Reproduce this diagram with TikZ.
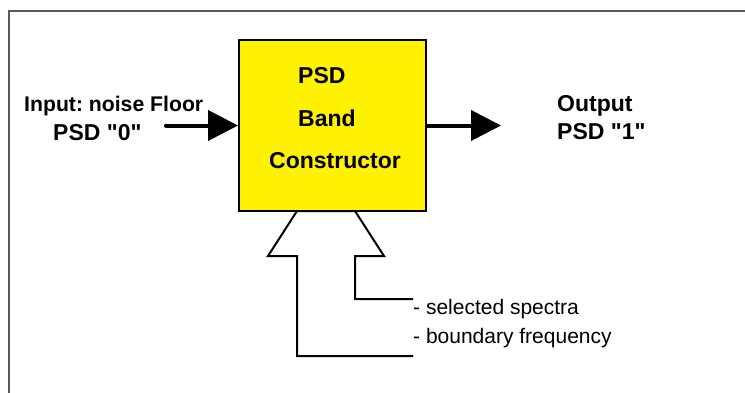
\documentclass[tikz,border=0pt]{standalone}
\usepackage{fontspec}
\setmainfont{Liberation Sans}
\usetikzlibrary{arrows.meta}
\frenchspacing
\begin{document}
\begin{tikzpicture}[x=1pt,y=-1pt,
  boldtxt/.style={anchor=base west,inner sep=0pt,font=\fontsize{23}{27}\selectfont\bfseries},
  plaintxt/.style={anchor=base west,inner sep=0pt,font=\fontsize{21}{25}\selectfont},
  blockbox/.style={draw=black,line width=2pt,fill=yellow,minimum width=187pt,minimum height=171pt,inner sep=0pt},
  flowarrow/.style={line width=4pt,-{Triangle[length=30pt,width=30pt]}},
  hollow/.style={line width=2pt,line join=miter}]
\useasboundingbox (0,0) rectangle (745,392);
% frame
\draw[line width=1.6pt,draw=black!65] (9,420) -- (9,11) -- (760,11);
% block
\node[blockbox] (box) at (332.5,125.5) {};
\node[boldtxt] (t1) at (298,83) {PSD};
\node[boldtxt] (t2) at (298,126) {Band};
\node[boldtxt] (t3) at (269,168) {Constructor};
% input
\node[boldtxt,font=\fontsize{21.2}{25}\selectfont\bfseries] (in1) at (24,111) {Input: noise Floor};
\node[boldtxt] (in2) at (53,140) {PSD \textquotedbl 0\textquotedbl};
\coordinate (instart) at (166,125.5);
\draw[flowarrow,line cap=round] (instart) -- (box.west);
% output
\coordinate (outend) at (501,125.5);
\draw[flowarrow] (box.east) -- (outend);
\node[boldtxt] (out1) at (557,111) {Output};
\node[boldtxt] (out2) at (557,139.5) {PSD \textquotedbl 1\textquotedbl};
% hollow arrow
\coordinate (rend) at (413,299);
\coordinate (lend) at (413,356);
\draw[hollow] (rend) -| (355,256) -- (384,256) -- (355,211) -- (297,211) -- (268,256) -- (297,256) |- (lend);
\node[plaintxt] (s1) at (413,314) {- selected spectra};
\node[plaintxt] (s2) at (413,343) {- boundary frequency};
\end{tikzpicture}
\end{document}
